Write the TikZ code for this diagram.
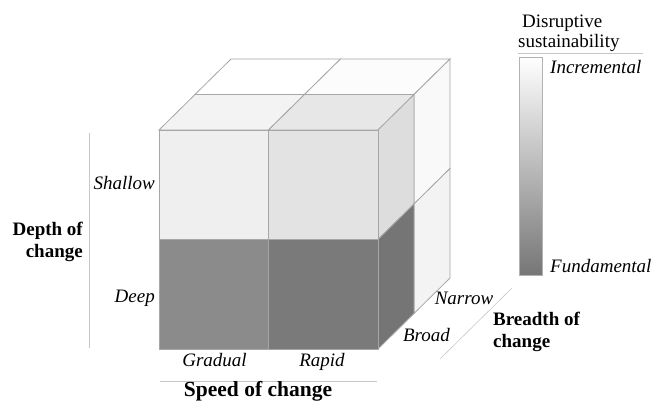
\documentclass[tikz,border=0pt]{standalone}
\usepackage{fontspec}
\setmainfont{Liberation Serif}
\definecolor{shallowG}{HTML}{EFEFEF}
\definecolor{shallowR}{HTML}{E3E3E3}
\definecolor{deepG}{HTML}{8B8B8B}
\definecolor{deepR}{HTML}{7A7A7A}
\definecolor{topG}{HTML}{F3F3F3}
\definecolor{topR}{HTML}{E7E7E7}
\definecolor{sideS}{HTML}{DDDDDD}
\definecolor{sideD}{HTML}{757575}
\definecolor{backT}{HTML}{FCFCFC}
\definecolor{backS}{HTML}{F9F9F9}
\definecolor{backD}{HTML}{F3F3F3}
\definecolor{barD}{HTML}{767676}

\begin{document}
\begin{tikzpicture}[x=1pt,y=1pt,face/.style={draw=black!35,line width=0.8pt},guide/.style={draw=black!22,line width=0.6pt},level/.style={font=\fontsize{19}{22}\selectfont\itshape,inner sep=0pt},axis/.style={font=\fontsize{19}{22}\selectfont\bfseries,inner sep=0pt},plain/.style={font=\fontsize{19}{22}\selectfont,inner sep=0pt}]
\useasboundingbox (0,0) rectangle (654,401);
\begin{scope}[shift={(159,52)},x={(109.5pt,0pt)},y={(0pt,109.5pt)},z={(36pt,35.5pt)}]
% narrow layer (back)
\draw[face,fill=white] (0,2,1) -- (1,2,1) -- (1,2,2) -- (0,2,2) -- cycle;
\draw[face,fill=backT] (1,2,1) -- (2,2,1) -- (2,2,2) -- (1,2,2) -- cycle;
\draw[face,fill=backS] (2,1,1) -- (2,2,1) -- (2,2,2) -- (2,1,2) -- cycle;
\draw[face,fill=backD] (2,0,1) -- (2,1,1) -- (2,1,2) -- (2,0,2) -- cycle;
% broad layer (front)
\draw[face,fill=topG] (0,2,0) -- (1,2,0) -- (1,2,1) -- (0,2,1) -- cycle;
\draw[face,fill=topR] (1,2,0) -- (2,2,0) -- (2,2,1) -- (1,2,1) -- cycle;
\draw[face,fill=sideS] (2,1,0) -- (2,2,0) -- (2,2,1) -- (2,1,1) -- cycle;
\draw[face,fill=sideD] (2,0,0) -- (2,1,0) -- (2,1,1) -- (2,0,1) -- cycle;
\draw[face,fill=shallowG] (0,1,0) rectangle (1,2,0);
\draw[face,fill=shallowR] (1,1,0) rectangle (2,2,0);
\draw[face,fill=deepG] (0,0,0) rectangle (1,1,0);
\draw[face,fill=deepR] (1,0,0) rectangle (2,1,0);
\end{scope}
% depth axis
\node[level,anchor=base east] (shallow) at (155,211) {Shallow};
\node[level,anchor=base east] (deep) at (155,98) {Deep};
\coordinate (depthtop) at (89,268);
\coordinate (depthbot) at (89,53);
\draw[guide] (depthtop) -- (depthbot);
\node[axis,align=right,anchor=east] (depth) at (83,159) {Depth of\\change};
% speed axis
\node[level,anchor=base] (gradual) at (214.5,34) {Gradual};
\node[level,anchor=base] (rapid) at (322,34) {Rapid};
\coordinate (speedleft) at (160,20);
\coordinate (speedright) at (377,20);
\draw[guide] (speedleft) -- (speedright);
\node[axis,font=\fontsize{21.5}{24}\selectfont\bfseries,anchor=base] (speed) at (258,4) {Speed of change};
% breadth axis
\node[level,anchor=base] (narrow) at (464,96) {Narrow};
\node[level,anchor=base] (broad) at (426.5,59) {Broad};
\coordinate (breadthtop) at (512,113);
\coordinate (breadthbot) at (440,42);
\draw[guide] (breadthtop) -- (breadthbot);
\node[axis,align=left,anchor=north west] (breadth) at (493,89) {Breadth of\\change};
% legend
\node[plain,anchor=base west] (disrupt) at (522,373) {Disruptive};
\node[plain,anchor=base west] (sustain) at (518,353) {sustainability};
\coordinate (legleft) at (518,348);
\coordinate (legright) at (643,348);
\draw[guide] (legleft) -- (legright);
\shade[top color=white,bottom color=barD] (519,126) rectangle (542,344);
\draw[draw=black!30,line width=0.8pt] (519,126) rectangle (542,344);
\node[level,anchor=base west] (incr) at (550,327) {Incremental};
\node[level,anchor=base west] (fund) at (550,128) {Fundamental};
\end{tikzpicture}
\end{document}
